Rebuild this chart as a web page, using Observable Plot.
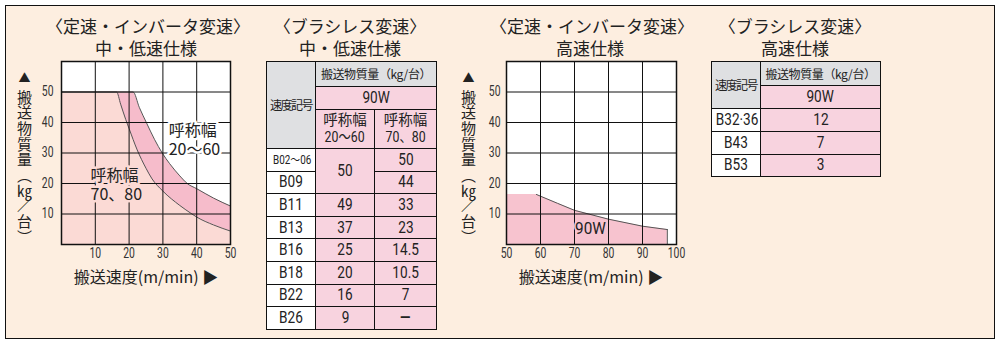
<!DOCTYPE html>
<html lang="ja"><head><meta charset="utf-8">
<script src="https://cdn.jsdelivr.net/npm/d3@7"></script>
<script src="https://cdn.jsdelivr.net/npm/@observablehq/plot@0.6"></script>
<style>
html,body{margin:0;padding:0;background:#fff;}
#wrap{position:relative;width:1000px;height:344px;overflow:hidden;font-family:"Noto Sans CJK JP",sans-serif;color:#222;}
#panel{position:absolute;left:5px;top:5px;width:990px;height:334px;box-sizing:border-box;border:1.5px solid #111;background:#fdeee0;}
.box{position:absolute;line-height:0;}
.title{position:absolute;text-align:center;font-size:17px;line-height:22px;white-space:nowrap;}
.vlabel{position:absolute;writing-mode:vertical-rl;font-size:15px;line-height:15px;letter-spacing:0.6px;white-space:nowrap;}
.tri{font-size:12px;margin-bottom:5px;}
.tcu{text-combine-upright:all;}
.xlabel{position:absolute;text-align:center;font-size:16px;line-height:18px;white-space:nowrap;}
table{position:absolute;border-collapse:collapse;table-layout:fixed;border:1.5px solid #111;}
td,th{border:1px solid #111;padding:0;text-align:center;vertical-align:middle;font-weight:normal;overflow:hidden;white-space:nowrap;color:#222;line-height:16px;box-sizing:border-box;}
.g{background:#dfe0e2;}
.p{background:#f8d3df;}
.w{background:#fff;}
.c{display:inline-block;transform:scaleX(0.85);transform-origin:center;}
.num{font-family:Roboto,"Noto Sans CJK JP",sans-serif;font-size:16px;}
.sm .c{font-size:13px;transform:scaleX(0.76);}
.hd{font-size:12px;letter-spacing:-1.5px;}
.hd2{font-size:12px;letter-spacing:-0.4px;}
.nm{font-family:Roboto,"Noto Sans CJK JP",sans-serif;font-size:14.5px;line-height:17px;}
.dash{font-weight:bold;}
</style></head><body>
<div id="wrap"><div id="panel"></div></div>
<script>
// ---------------- data ----------------
// 定速・インバータ変速 中・低速仕様
const speedWide = [0, 16.3, 17.5, 19, 20, 22.4, 25, 26.8, 30, 35, 38.6, 40, 45, 50];
const massWide  = [50, 50, 46, 41, 38, 31, 25, 21.5, 17.5, 12.8, 10, 9, 6.4, 4.4];   // 呼称幅70、80
const speedNarrow = [0, 21.2, 23, 25.1, 27.5, 29.8, 32, 35, 37.2, 40, 45, 50];
const massNarrow  = [50, 50, 45, 40, 34.5, 30, 26.5, 22.5, 20, 18.3, 15.2, 12.6];  // 呼称幅20〜60
const xTicksLow = [10, 20, 30, 40, 50];
// 定速・インバータ変速 高速仕様
const speedHigh = [50, 58.8, 65, 70, 80, 90, 97.3];
const massHigh  = [16.4, 16.4, 13.5, 11.2, 8.3, 6, 4.9];                            // 90W
const xTicksHigh = [50, 60, 70, 80, 90, 100];
const yTicks = [10, 20, 30, 40, 50];
// ブラシレス変速 中・低速仕様
const codesLow = ["B02〜06", "B09", "B11", "B13", "B16", "B18", "B22", "B26"];
const loadLowNarrow = ["50", "50", "49", "37", "25", "20", "16", "9"];
const loadLowWide   = ["50", "44", "33", "23", "14.5", "10.5", "7", null];
// ブラシレス変速 高速仕様
const codesHigh = ["B32·36", "B43", "B53"];
const loadHighBL = ["12", "7", "3"];

const wideData = speedWide.map((x, i) => ({x, y: massWide[i]}));
const narrowData = speedNarrow.map((x, i) => ({x, y: massNarrow[i]}));
const highData = speedHigh.map((x, i) => ({x, y: massHigh[i]}));

const LIGHT = "#fbdad5", BAND = "#f6bccb", HIGHFILL = "#f7c3cf";
const FNUM = "Roboto,'Liberation Sans',sans-serif";
const FJP = "'Noto Sans CJK JP',sans-serif";
const wrap = document.getElementById("wrap");

function place(el, left, top) {
  const d = document.createElement("div");
  d.className = "box"; d.style.left = left + "px"; d.style.top = top + "px";
  d.appendChild(el); wrap.appendChild(d); return d;
}
function addHTML(cls, left, top, width, html) {
  const d = document.createElement("div");
  d.className = cls; d.style.left = left + "px"; d.style.top = top + "px";
  if (width) d.style.width = width + "px";
  d.innerHTML = html; wrap.appendChild(d); return d;
}
// narrow the numeric glyphs like the condensed face of the original
function condense(svg, selector, factor) {
  svg.querySelectorAll(selector).forEach(t => {
    const L = t.getComputedTextLength();
    if (L > 0) { t.setAttribute("textLength", L * factor); t.setAttribute("lengthAdjust", "spacingAndGlyphs"); }
  });
}

// ---------------- chart 1 ----------------
const c1 = Plot.plot({
  width: 250, height: 300,
  marginLeft: 61, marginRight: 20, marginTop: 61, marginBottom: 56,
  style: {background: "transparent", fontFamily: FNUM, fontSize: "14px", color: "#333", overflow: "visible"},
  x: {domain: [0, 50], ticks: xTicksLow, tickSize: 0, tickPadding: 4, label: null},
  y: {domain: [0, 60], ticks: yTicks, tickSize: 0, tickPadding: 8, label: null},
  marks: [
    Plot.frame({fill: "white"}),
    Plot.areaY(narrowData, {x: "x", y: "y", fill: BAND, curve: "monotone-x"}),
    Plot.areaY(wideData, {x: "x", y: "y", fill: LIGHT, curve: "monotone-x"}),
    Plot.line(narrowData, {x: "x", y: "y", stroke: "#555", strokeWidth: 1, curve: "monotone-x"}),
    Plot.line(wideData, {x: "x", y: "y", stroke: "#555", strokeWidth: 1, curve: "monotone-x"}),
    Plot.ruleX(xTicksLow, {stroke: "#111", strokeWidth: 1}),
    Plot.ruleY(yTicks, {stroke: "#111", strokeWidth: 1}),
    Plot.frame({stroke: "#111", strokeWidth: 1.5}),
    Plot.text(["呼称幅\n20〜60"], {x: 31.7, y: 34.4, text: d => d, textAnchor: "start", lineHeight: 1.15,
      fontSize: 16, fontFamily: FJP, fill: "#222", stroke: "white", strokeWidth: 5}),
    Plot.text(["呼称幅\n70、80"], {x: 8.6, y: 19.7, text: d => d, textAnchor: "start", lineHeight: 1.15,
      fontSize: 16, fontFamily: FJP, fill: "#222", stroke: LIGHT, strokeWidth: 5})
  ]
});
place(c1, 0, 0);

// ---------------- chart 2 ----------------
const c2 = Plot.plot({
  width: 250, height: 300,
  marginLeft: 56, marginRight: 24, marginTop: 61, marginBottom: 56,
  style: {background: "transparent", fontFamily: FNUM, fontSize: "14px", color: "#333", overflow: "visible"},
  x: {domain: [50, 100], ticks: xTicksHigh, tickSize: 0, tickPadding: 4, label: null},
  y: {domain: [0, 60], ticks: yTicks, tickSize: 0, tickPadding: 6, label: null},
  marks: [
    Plot.frame({fill: "white"}),
    Plot.areaY(highData, {x: "x", y: "y", fill: HIGHFILL}),
    Plot.line(highData.slice(1), {x: "x", y: "y", stroke: "#555", strokeWidth: 1}),
    Plot.ruleX(highData.slice(-1), {x: "x", y1: 0, y2: "y", stroke: "#555", strokeWidth: 1}),
    Plot.ruleX(xTicksHigh, {stroke: "#111", strokeWidth: 1}),
    Plot.ruleY(yTicks, {stroke: "#111", strokeWidth: 1}),
    Plot.frame({stroke: "#111", strokeWidth: 1.5}),
    Plot.text(["90W"], {x: 74.7, y: 5.3, text: d => d, fontSize: 17, fontFamily: FNUM,
      fill: "#222", stroke: HIGHFILL, strokeWidth: 4, className: "lbl90"})
  ]
});
place(c2, 450, 0);

for (const svg of [c1, c2]) {
  condense(svg, "[aria-label$='tick label'] text", 0.74);
}
condense(c2, ".lbl90 text", 0.9);

// ---------------- titles & axis labels ----------------
addHTML("title", 46, 15, 200, "〈定速・インバータ変速〉<br>中・低速仕様");
addHTML("title", 250, 15, 200, "〈ブラシレス変速〉<br>中・低速仕様");
addHTML("title", 490, 15, 200, "〈定速・インバータ変速〉<br>高速仕様");
addHTML("title", 695, 15, 200, "〈ブラシレス変速〉<br>高速仕様");
const vtxt = '<span class="tri">▲</span>搬送物質量（<span class="tcu">kg</span>／台）';
addHTML("vlabel", 17, 72, 0, vtxt);
addHTML("vlabel", 461, 72, 0, vtxt);
addHTML("xlabel", 46, 267, 200, "搬送速度(m/min) ▶");
addHTML("xlabel", 491, 267, 200, "搬送速度(m/min) ▶");

const C = s => '<span class="c">' + s + '</span>';

// ---------------- table 1 ----------------
(function () {
  const t = document.createElement("table");
  t.style.left = "266px"; t.style.top = "61px"; t.style.width = "170px";
  let h = '<colgroup><col style="width:49px"><col style="width:59px"><col style="width:62px"></colgroup>';
  h += '<tr style="height:25px"><th rowspan="3" class="g hd">速度記号</th><th colspan="2" class="g hd2">搬送物質量（kg/台）</th></tr>';
  h += '<tr style="height:23px"><td colspan="2" class="p num">' + C("90W") + '</td></tr>';
  h += '<tr style="height:39px"><td class="p nm">呼称幅<br>' + C("20〜60") + '</td><td class="p nm">呼称幅<br>' + C("70、80") + '</td></tr>';
  codesLow.forEach((c, i) => {
    h += '<tr style="height:22.6px"><td class="w num' + (i === 0 ? ' sm' : '') + '">' + C(c) + '</td>';
    if (i === 0 || loadLowNarrow[i] !== loadLowNarrow[i - 1]) {
      let span = 1;
      while (i + span < codesLow.length && loadLowNarrow[i + span] === loadLowNarrow[i]) span++;
      h += '<td class="p num" rowspan="' + span + '">' + C(loadLowNarrow[i]) + '</td>';
    }
    h += '<td class="p num">' + (loadLowWide[i] !== null ? C(loadLowWide[i]) : '<span class="c dash">—</span>') + '</td></tr>';
  });
  t.innerHTML = h; wrap.appendChild(t);
})();

// ---------------- table 2 ----------------
(function () {
  const t = document.createElement("table");
  t.style.left = "711px"; t.style.top = "61px"; t.style.width = "169px";
  let h = '<colgroup><col style="width:49px"><col style="width:120px"></colgroup>';
  h += '<tr style="height:24px"><th rowspan="2" class="g hd">速度記号</th><th class="g hd2">搬送物質量（kg/台）</th></tr>';
  h += '<tr style="height:23px"><td class="p num">' + C("90W") + '</td></tr>';
  codesHigh.forEach((c, i) => {
    h += '<tr style="height:22.8px"><td class="w num">' + C(c) + '</td><td class="p num">' + C(loadHighBL[i]) + '</td></tr>';
  });
  t.innerHTML = h; wrap.appendChild(t);
})();
</script>
</body></html>
